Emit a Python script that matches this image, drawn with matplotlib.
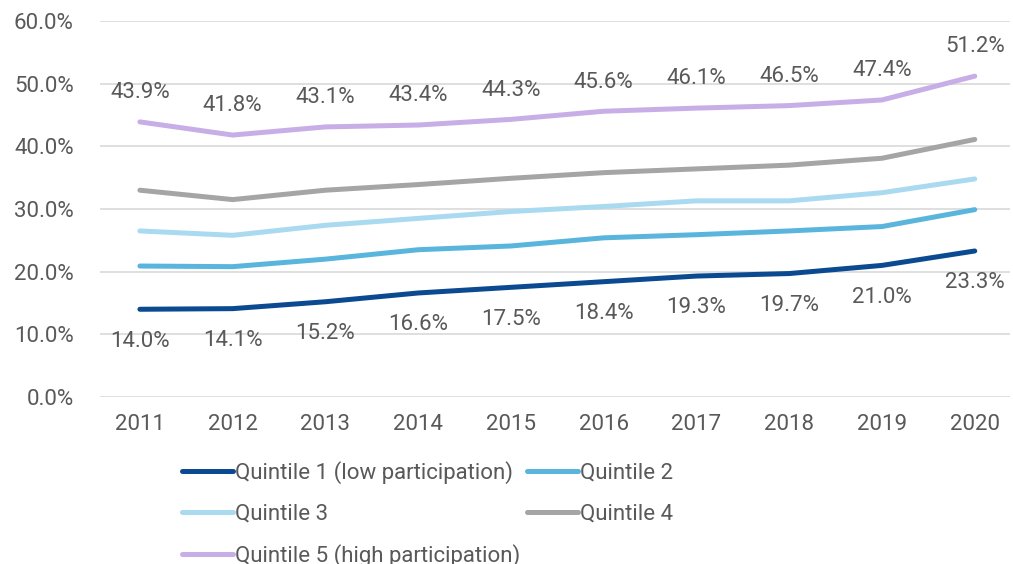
import matplotlib
matplotlib.use("Agg")
import matplotlib.pyplot as plt
from matplotlib.ticker import FuncFormatter

years = ["2011", "2012", "2013", "2014", "2015", "2016", "2017", "2018", "2019", "2020"]
q1 = [14.0, 14.1, 15.2, 16.6, 17.5, 18.4, 19.3, 19.7, 21.0, 23.3]
q2 = [20.9, 20.8, 22.0, 23.5, 24.1, 25.4, 25.9, 26.5, 27.2, 29.9]
q3 = [26.5, 25.8, 27.4, 28.5, 29.6, 30.4, 31.3, 31.3, 32.6, 34.8]
q4 = [33.0, 31.5, 33.0, 33.9, 34.9, 35.8, 36.4, 37.0, 38.1, 41.1]
q5 = [43.9, 41.8, 43.1, 43.4, 44.3, 45.6, 46.1, 46.5, 47.4, 51.2]
series_names = ["Quintile 1 (low participation)", "Quintile 2", "Quintile 3",
                "Quintile 4", "Quintile 5 (high participation)"]
colors = ["#0B4A90", "#5AB5DD", "#AADAF0", "#A5A5A5", "#C8AEE6"]

plt.rcParams['font.family'] = ['Roboto', 'DejaVu Sans']
text_color = "#595959"

fig = plt.figure(figsize=(10.13, 5.64), dpi=100)
ax = fig.add_axes([100/1013, (564-397)/564, 910/1013, 376/564])

x = list(range(len(years)))
all_series = [q1, q2, q3, q4, q5]
lines = []
for vals, name, c in zip(all_series, series_names, colors):
    ln, = ax.plot(x, vals, color=c, lw=3.6, solid_capstyle='round', label=name, zorder=3)
    lines.append(ln)

for xi, v in zip(x, q1):
    ax.annotate(f"{v:.1f}%", (xi, v), xytext=(0, -23), textcoords='offset points',
                ha='center', va='center', fontsize=16, color=text_color)
for xi, v in zip(x, q5):
    ax.annotate(f"{v:.1f}%", (xi, v), xytext=(0, 21), textcoords='offset points',
                ha='center', va='center', fontsize=16, color=text_color)

ax.set_ylim(0, 60)
ax.set_yticks(range(0, 61, 10))
ax.yaxis.set_major_formatter(FuncFormatter(lambda v, p: f"{v:.1f}%"))
ax.set_xlim(-0.43, 9.38)
ax.set_xticks(x)
ax.set_xticklabels(years)
ax.grid(axis='y', color='#D9D9D9', lw=1.2, zorder=0)
for s in ax.spines.values():
    s.set_visible(False)
ax.tick_params(axis='both', length=0, labelsize=16, labelcolor=text_color)
ax.tick_params(axis='y', pad=19)
ax.tick_params(axis='x', pad=12)

# row-wise ordering for a 2-column legend
order = [0, 2, 4, 1, 3]
leg = fig.legend(handles=[lines[i] for i in order], loc='upper left',
                 bbox_to_anchor=(162/1013, 1 - 441/564),
                 ncol=2, frameon=False, fontsize=16, handlelength=2.3, handletextpad=0.1,
                 columnspacing=0.28, labelspacing=0.88, labelcolor=text_color)

fig.savefig("out.png", dpi=100)
